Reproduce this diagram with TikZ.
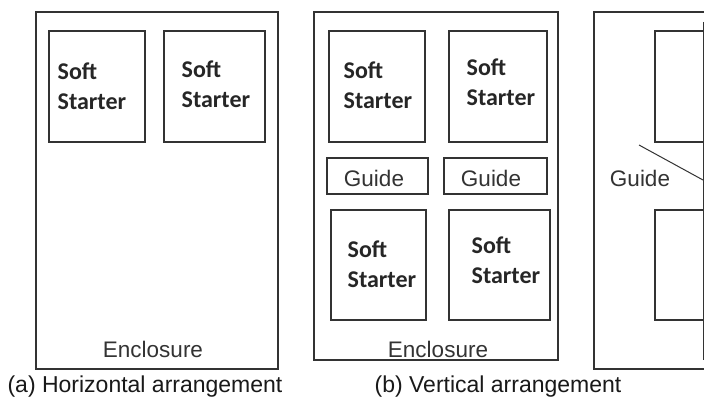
\documentclass[tikz,border=0pt]{standalone}
\usepackage{fontspec}
\setmainfont{Liberation Sans}
\newfontfamily\calib{Carlito}
\begin{document}
\begin{tikzpicture}[x=1pt,y=-1pt,
  line width=1.3pt,
  frame/.style={draw=black!80},
  box/.style={draw=black!80, line width=1.3pt},
  ss/.style={anchor=base west, inner sep=0pt, align=left, text=black!85,
    font=\calib\bfseries\fontsize{24}{30}\selectfont},
  lbl/.style={anchor=base, inner sep=0pt, text=black!80,
    font=\fontsize{22.5}{27}\selectfont},
  captext/.style={anchor=base, inner sep=0pt, text=black!90,
    font=\fontsize{23}{28}\selectfont}]
\clip (0,0) rectangle (704,401);
\fill[white] (0,0) rectangle (704,401);
% (a)
\draw[frame] (36,12) rectangle (278,369);
\draw[box] (49,31) rectangle (145,142);
\draw[box] (164,31) rectangle (265,142);
\node[ss] (a1) at (57,110) {Soft\\Starter};
\node[ss] (a2) at (181,108) {Soft\\Starter};
\node[lbl] (ea) at (153,357) {Enclosure};
\node[captext] (capa) at (145,392) {(a) Horizontal arrangement};
% (b)
\draw[frame] (314,12) rectangle (558,360);
\draw[box] (329,31) rectangle (425,142);
\draw[box] (449,31) rectangle (547,142);
\draw[box] (327,158) rectangle (428,194);
\draw[box] (444,158) rectangle (547,194);
\draw[box] (331,210) rectangle (426,320);
\draw[box] (449,210) rectangle (550,320);
\node[ss] (b1) at (343,109) {Soft\\Starter};
\node[ss] (b2) at (466,106) {Soft\\Starter};
\node[ss] (b3) at (347,287) {Soft\\Starter};
\node[ss] (b4) at (471,283) {Soft\\Starter};
\node[lbl] (g1) at (374,186) {Guide};
\node[lbl] (g2) at (491,186) {Guide};
\node[lbl] (eb) at (438,357) {Enclosure};
\node[captext] (capb) at (498,392) {(b) Vertical arrangement};
% (c)
\draw[frame] (594,12) rectangle (760,369);
\draw[box] (655,31) rectangle (760,142);
\draw[box] (655,210) rectangle (760,320);
\coordinate (vt) at (703,22);
\coordinate (vb) at (703,360);
\draw[black!80, line width=1pt] (vt) -- (vb);
\coordinate (gs) at (639,145);
\coordinate (ge) at (703,180);
\draw[black!80, line width=1pt] (gs) -- (ge);
\node[lbl] (gc) at (640,186) {Guide};
\end{tikzpicture}
\end{document}
